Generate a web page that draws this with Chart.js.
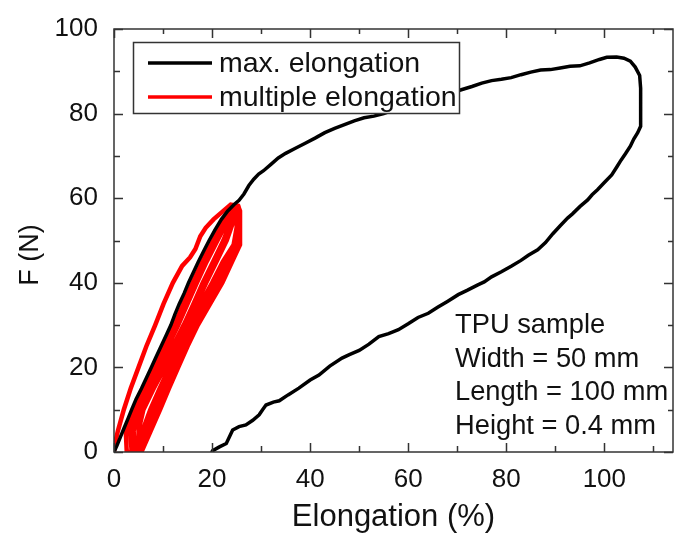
<!DOCTYPE html>
<html>
<head>
<meta charset="utf-8">
<script src="https://cdn.jsdelivr.net/npm/chart.js@4.4.1/dist/chart.umd.min.js"></script>
<style>
  html, body { margin: 0; padding: 0; background: #fff; }
  canvas { display: block; }
</style>
</head>
<body>
<canvas id="chart" width="675" height="536"></canvas>
<script>
// max. elongation run (black), one loading / unloading loop
const maxX = [0,0.6,1.3,2.0,2.9,3.6,4.5,5.6,6.6,7.6,8.6,9.6,10.6,11.6,12.4,13.3,14.3,15.2,16.2,17.2,18.3,19.4,20.6,21.9,23.2,24.5,25.5,26.5,27.5,28.5,29.5,30.5,32,33.5,35,37,39,41,43,45,47,49,51,53,55,57,59,61,63,65,67,69,71,73,75,77,79,81,83,85,87,89,91,93,95,97,99,100.5,102.5,104,105.3,106.3,107.2,107.4,107.4,107.4,106.8,106,105.3,104.3,103.4,102.6,101.5,100,98.6,97.5,96.6,95,93.5,92.5,91,89.5,88,86.4,84.5,83,81,79,77,75.5,74.2,72,70.2,68,66,64.1,62,60,58,56,54,52,50,48,46.5,44,41.8,40,37.7,35.5,33.7,32.5,31,30.3,29.6,28.3,26.9,25.5,24.2,23.5,22.9,21.5,20.1,20];
const maxY = [0,1.5,3.5,5.5,8,10,12.5,15,17.5,20,22.5,25,27.5,30,32.5,35,37.5,40,42.5,45,47.5,50,52.5,55,57,58.5,59.5,61,63,64.5,65.7,66.5,68,69.5,70.6,71.8,73,74.2,75.5,76.5,77.4,78.3,79,79.4,80,80.8,81.6,82.5,83.3,84,84.5,85,85.7,86.4,87.2,87.8,88.1,88.5,89.2,89.8,90.3,90.4,90.8,91.2,91.3,92,92.8,93.3,93.4,93.1,92.4,91,89,86,82,77,75.5,74,72.3,70.5,69,67.5,65.5,63.7,62,60.8,59.6,58,56.3,55.3,53.5,51.6,49.5,47.8,46.5,45.3,43.9,42.6,41.4,40.2,39.5,38.2,37.2,35.6,34.2,32.8,31.8,30.3,28.9,28,27.3,25.5,24,23,22.2,20.3,18.2,17,15.1,13.5,12.1,11.8,11.1,10,8.8,7.5,6.4,6,5.2,3.5,2,1.2,0.3,0];

// multiple elongation run (red), several cycles up to ~25 %
const multiX = [
  0,0.3,0.8,2.0,3.4,5.0,6.6,8.4,10.1,12.0,13.9,15.5,16.6,17.6,18.7,20.3,22.3,23.8,25.3,25.7,25.7,
  24.1,22.1,19.6,17.1,15.0,13.1,11.2,9.4,7.5,5.6,
  5.0,5.0,6.0,8.1,10.4,12.6,14.8,16.8,18.8,20.9,23.0,24.5,25.4,
  25.4,25.3,23.7,21.6,19.2,16.8,14.7,12.8,10.9,9.0,7.2,5.4,
  4.3,4.0,5.5,7.6,9.9,12.0,14.2,16.2,18.1,20.2,22.3,24.2,25.3,
  25.2,25.0,22.9,20.8,18.4,16.1,14.0,12.0,10.0,8.1,6.4,5.1,
  3.6,3.3,4.8,6.8,8.9,11.0,13.1,15.0,16.9,18.9,21.1,23.8,25.2,
  25.0,24.4,22.2,20.0,17.6,15.5,13.4,11.3,9.3,7.4,5.8,4.7,
  2.6,2.4,4.2,6.2,8.2,10.2,12.3,14.1,16.0,18.0,20.2,23.3,25.1
];
const multiY = [
  0,2.5,5,10,15,20,25,30,35,40,44,46,48,51,53,55,57,58.5,58.2,57,49,
  45,40,35,30,25,20,15,10,5,0,
  0,5,10,15,20,25,30,35,40,45,50,55,56.5,
  55,49,45,40,35,30,25,20,15,10,5,0,
  0,5,10,15,20,25,30,35,40,45,50,55.5,57,
  54,49,45,40,35,30,25,20,15,10,5,0,
  0,5,10,15,20,25,30,35,40,45,50,56,57.3,
  53,49,45,40,35,30,25,20,15,10,5,0,
  0,5,10,15,20,25,30,35,40,45,50,56.5,57.8
];

const seriesNames = ['max. elongation', 'multiple elongation'];
const seriesColors = ['#000000', '#ff0000'];
const sampleInfo = ['TPU sample', 'Width = 50 mm', 'Length = 100 mm', 'Height = 0.4 mm'];

const xTickStep = 10, yTickStep = 10;
const FONT = "'Liberation Sans', Arial, sans-serif";

function toPoints(xs, ys) {
    return xs.map((x, i) => ({ x: x, y: ys[i] }));
}

// box frame with inward ticks on all four sides, plus the y title
const framePlugin = {
    id: 'frame',
    afterDraw(chart) {
        const ctx = chart.ctx;
        const a = chart.chartArea;
        const xs = chart.scales.x, ys = chart.scales.y;
        ctx.save();
        ctx.strokeStyle = '#333';
        ctx.lineWidth = 1.5;
        ctx.strokeRect(a.left, a.top, a.right - a.left, a.bottom - a.top);
        ctx.beginPath();
        xs.ticks.forEach(t => {
            const px = Math.round(xs.getPixelForValue(t.value)) + 0.5;
            const major = t.value % 20 === 0;
            ctx.moveTo(px, a.bottom); ctx.lineTo(px, a.bottom - (major ? 9 : 6));
            ctx.moveTo(px, a.top); ctx.lineTo(px, a.top + (major ? 9 : 5));
        });
        ys.ticks.forEach(t => {
            const py = Math.round(ys.getPixelForValue(t.value)) + 0.5;
            const major = t.value % 20 === 0;
            ctx.moveTo(a.left, py); ctx.lineTo(a.left + (major ? 9 : 6), py);
            ctx.moveTo(a.right, py); ctx.lineTo(a.right - (major ? 9 : 5), py);
        });
        ctx.stroke();

        ctx.translate(31, 255);
        ctx.rotate(-Math.PI / 2);
        ctx.fillStyle = '#111';
        ctx.font = '27px ' + FONT;
        ctx.textAlign = 'center';
        ctx.textBaseline = 'middle';
        ctx.fillText('F (N)', 0, 0);
        ctx.restore();
    }
};

// legend box + sample description
const notesPlugin = {
    id: 'notes',
    afterDatasetsDraw(chart) {
        const ctx = chart.ctx;
        ctx.save();
        ctx.fillStyle = '#fff';
        ctx.fillRect(133.5, 42.5, 326, 71);
        ctx.strokeStyle = '#333';
        ctx.lineWidth = 1.5;
        ctx.strokeRect(133.5, 42.5, 326, 71);

        ctx.font = '28.5px ' + FONT;
        ctx.textBaseline = 'middle';
        seriesNames.forEach((name, i) => {
            const y = 63 + i * 34;
            ctx.strokeStyle = seriesColors[i];
            ctx.lineWidth = 3.5;
            ctx.beginPath();
            ctx.moveTo(148, y); ctx.lineTo(212, y);
            ctx.stroke();
            ctx.fillStyle = '#111';
            ctx.fillText(name, 219, y + 1);
        });

        ctx.font = '27.3px ' + FONT;
        ctx.textBaseline = 'alphabetic';
        sampleInfo.forEach((line, i) => {
            ctx.fillText(line, 455, 333 + i * 33.5);
        });
        ctx.restore();
    }
};

function buildChart() {
    const ctx = document.getElementById('chart').getContext('2d');
    new Chart(ctx, {
        type: 'scatter',
        data: {
            datasets: [{
                label: seriesNames[0],
                data: toPoints(maxX, maxY),
                showLine: true,
                borderColor: seriesColors[0],
                borderWidth: 3.5,
                pointRadius: 0,
                tension: 0
            }, {
                label: seriesNames[1],
                data: toPoints(multiX, multiY),
                showLine: true,
                borderColor: seriesColors[1],
                borderWidth: 4.5,
                pointRadius: 0,
                tension: 0
            }]
        },
        options: {
            responsive: false,
            animation: false,
            devicePixelRatio: 1,
            layout: { padding: { top: 29, right: 2, left: 0, bottom: 0 } },
            plugins: {
                legend: { display: false },
                tooltip: { enabled: false }
            },
            scales: {
                x: {
                    type: 'linear',
                    min: 0,
                    max: 114,
                    grid: { display: false },
                    border: { display: false },
                    afterFit: s => { s.height = 84; },
                    ticks: {
                        stepSize: xTickStep,
                        includeBounds: false,
                        autoSkip: false,
                        maxRotation: 0,
                        padding: 4,
                        color: '#111',
                        font: { family: FONT, size: 26 },
                        callback: v => (v % 20 === 0 ? v : '')
                    },
                    title: {
                        display: true,
                        text: 'Elongation (%)',
                        color: '#111',
                        font: { family: FONT, size: 31 },
                        padding: { top: 0, bottom: 0 }
                    }
                },
                y: {
                    type: 'linear',
                    min: 0,
                    max: 100,
                    grid: { display: false },
                    border: { display: false },
                    afterFit: s => { s.width = 114; },
                    ticks: {
                        stepSize: yTickStep,
                        includeBounds: false,
                        autoSkip: false,
                        padding: 8,
                        color: '#111',
                        font: { family: FONT, size: 26 },
                        callback: v => (v % 20 === 0 ? v : '')
                    }
                }
            }
        },
        plugins: [notesPlugin, framePlugin]
    });
}

buildChart();
</script>
</body>
</html>
